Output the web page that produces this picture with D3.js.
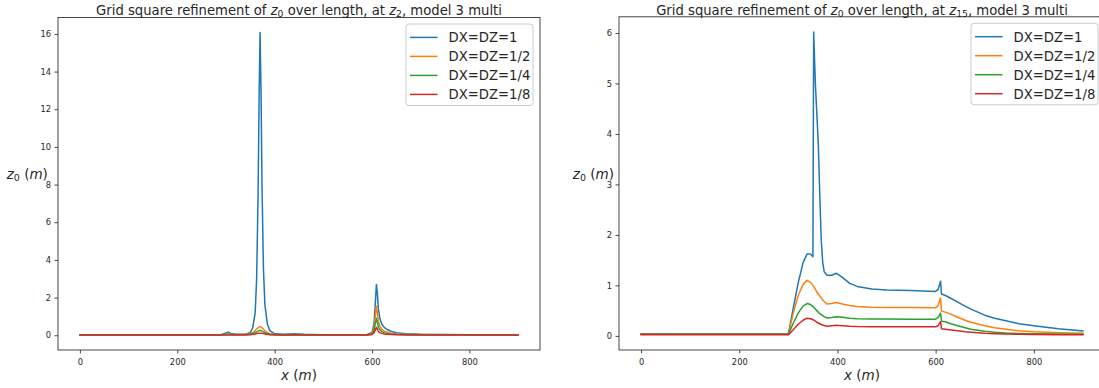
<!DOCTYPE html>
<html>
<head>
<meta charset="utf-8">
<script src="https://cdn.jsdelivr.net/npm/d3@7"></script>
<style>
  html, body { margin: 0; padding: 0; background: #fff; }
  svg { display: block; font-family: "DejaVu Sans", sans-serif; }
</style>
</head>
<body>
<svg id="fig" width="1099" height="388"></svg>
<script>
// ---- data -------------------------------------------------------------
const seriesLabels = ["DX=DZ=1", "DX=DZ=1/2", "DX=DZ=1/4", "DX=DZ=1/8"];
const seriesColors = ["#1f77b4", "#ff7f0e", "#2ca02c", "#d62728"];
const xTicks = [0, 200, 400, 600, 800];
const yTicksLeft = [0, 2, 4, 6, 8, 10, 12, 14, 16];
const yTicksRight = [0, 1, 2, 3, 4, 5, 6];

// z0 along the domain at level z2
const xLeft = [0, 100, 200, 290, 300, 305, 310, 320, 340, 350, 355, 360, 363, 366, 368, 370,
  372, 374, 377, 380, 385, 390, 400, 420, 440, 460, 500, 550, 590, 600, 604, 607,
  609, 611, 613, 616, 620, 625, 630, 640, 650, 670, 700, 750, 800, 900];
const left1 = [0.03, 0.03, 0.03, 0.03, 0.12, 0.16, 0.10, 0.05, 0.05, 0.15, 0.40, 1.2, 3.0, 7.5, 12.5, 16.07,
  13.0, 8.0, 3.5, 1.6, 0.6, 0.25, 0.08, 0.05, 0.08, 0.05, 0.03, 0.03, 0.04, 0.15, 0.6, 1.8,
  2.7, 2.2, 1.4, 0.9, 0.6, 0.42, 0.32, 0.2, 0.14, 0.08, 0.05, 0.04, 0.03, 0.03];
const left2 = [0.03, 0.03, 0.03, 0.03, 0.05, 0.06, 0.05, 0.04, 0.05, 0.08, 0.14, 0.25, 0.33, 0.40, 0.44, 0.46,
  0.44, 0.40, 0.32, 0.24, 0.13, 0.08, 0.04, 0.03, 0.04, 0.03, 0.03, 0.03, 0.03, 0.08, 0.4, 1.1,
  1.55, 1.2, 0.75, 0.5, 0.33, 0.23, 0.17, 0.1, 0.07, 0.05, 0.04, 0.03, 0.03, 0.03];
const left4 = [0.03, 0.03, 0.03, 0.03, 0.04, 0.04, 0.04, 0.03, 0.04, 0.06, 0.09, 0.14, 0.18, 0.22, 0.25, 0.26,
  0.25, 0.22, 0.18, 0.14, 0.09, 0.06, 0.04, 0.03, 0.03, 0.03, 0.03, 0.03, 0.03, 0.06, 0.25, 0.65,
  0.9, 0.7, 0.45, 0.3, 0.2, 0.14, 0.1, 0.07, 0.05, 0.04, 0.03, 0.03, 0.03, 0.03];
const left8 = [0.02, 0.02, 0.02, 0.02, 0.02, 0.02, 0.02, 0.02, 0.02, 0.03, 0.05, 0.07, 0.09, 0.10, 0.11, 0.11,
  0.11, 0.10, 0.09, 0.07, 0.05, 0.03, 0.02, 0.02, 0.02, 0.02, 0.02, 0.02, 0.02, 0.04, 0.12, 0.3,
  0.43, 0.32, 0.2, 0.14, 0.1, 0.07, 0.05, 0.04, 0.03, 0.02, 0.02, 0.02, 0.02, 0.02];

// z0 along the domain at level z15
const xRight = [0, 100, 200, 300, 310, 320, 330, 338, 345, 350, 351.5, 355, 358, 361, 364, 367,
  370, 373, 379, 388, 398, 410, 425, 440, 470, 500, 550, 600, 605, 610, 612, 620,
  628, 645, 660, 672, 700, 720, 743, 770, 800, 850, 900];
const right1 = [0.04, 0.04, 0.04, 0.04, 0.55, 1.05, 1.45, 1.62, 1.62, 1.57, 6.02, 5.0, 4.4, 3.8, 2.8, 1.9,
  1.45, 1.27, 1.2, 1.2, 1.24, 1.16, 1.04, 0.98, 0.93, 0.91, 0.9, 0.88, 0.92, 1.08, 0.83, 0.8,
  0.76, 0.67, 0.59, 0.53, 0.41, 0.35, 0.3, 0.24, 0.2, 0.14, 0.1];
const right2 = [0.03, 0.03, 0.03, 0.03, 0.45, 0.8, 1.02, 1.1, 1.06, 1.0, 0.98, 0.92, 0.87, 0.83, 0.79, 0.75,
  0.71, 0.68, 0.63, 0.64, 0.66, 0.63, 0.6, 0.58, 0.565, 0.56, 0.56, 0.555, 0.6, 0.75, 0.49, 0.47,
  0.44, 0.37, 0.31, 0.27, 0.2, 0.16, 0.13, 0.1, 0.08, 0.06, 0.05];
const right4 = [0.03, 0.03, 0.03, 0.03, 0.25, 0.45, 0.59, 0.64, 0.62, 0.58, 0.57, 0.53, 0.5, 0.47, 0.44, 0.42,
  0.4, 0.38, 0.355, 0.365, 0.38, 0.37, 0.35, 0.34, 0.335, 0.333, 0.33, 0.33, 0.36, 0.45, 0.29, 0.28,
  0.25, 0.2, 0.16, 0.13, 0.09, 0.07, 0.055, 0.045, 0.04, 0.035, 0.033];
const right8 = [0.02, 0.02, 0.02, 0.02, 0.12, 0.23, 0.31, 0.35, 0.34, 0.32, 0.315, 0.29, 0.27, 0.255, 0.24, 0.225,
  0.215, 0.205, 0.19, 0.2, 0.21, 0.2, 0.19, 0.185, 0.183, 0.182, 0.18, 0.18, 0.2, 0.28, 0.14, 0.13,
  0.12, 0.1, 0.08, 0.07, 0.05, 0.042, 0.035, 0.03, 0.025, 0.022, 0.02];

// ---- drawing ----------------------------------------------------------
const svg = d3.select("#fig");
const FONT = "DejaVu Sans";
const INK = "#262626";

// writes a mathtext-like label: parts are [text, style] with style in
// {"", "i" (italic), "sub" (upright subscript)}
function richText(sel, parts, size) {
  let shifted = false;
  parts.forEach(([txt, style]) => {
    const t = sel.append("tspan").text(txt);
    if (style === "i") t.attr("font-style", "italic");
    if (style === "sub") {
      t.attr("font-size", size * 0.7).attr("dy", size * 0.22);
      shifted = true;
    } else if (shifted) {
      t.attr("dy", -size * 0.22);
      shifted = false;
    }
  });
}

function drawPanel(cfg) {
  const g = svg.append("g");
  const xExt = d3.extent(cfg.x);
  const xPad = (xExt[1] - xExt[0]) * 0.05;
  const x = d3.scaleLinear().domain([xExt[0] - xPad, xExt[1] + xPad]).range([cfg.l, cfg.r]);
  const yExt = d3.extent(cfg.series.flat());
  const yPad = (yExt[1] - yExt[0]) * 0.05;
  const y = d3.scaleLinear().domain([yExt[0] - yPad, yExt[1] + yPad]).range([cfg.b, cfg.t]);

  const clipId = "clip" + cfg.id;
  svg.append("clipPath").attr("id", clipId)
    .append("rect").attr("x", cfg.l).attr("y", cfg.t)
    .attr("width", cfg.r - cfg.l).attr("height", cfg.b - cfg.t);

  // series lines
  const line = d3.line().x(d => x(d[0])).y(d => y(d[1]));
  const lg = g.append("g").attr("clip-path", `url(#${clipId})`);
  cfg.series.forEach((vals, i) => {
    lg.append("path")
      .datum(cfg.x.map((xv, k) => [xv, vals[k]]))
      .attr("d", line)
      .attr("fill", "none")
      .attr("stroke", seriesColors[i])
      .attr("stroke-width", 1.5)
      .attr("stroke-linejoin", "round")
      .attr("stroke-linecap", "square");
  });

  // axes
  const fmt = d3.format("d");
  const xAxis = g.append("g").attr("transform", `translate(0,${cfg.b})`)
    .call(d3.axisBottom(x).tickValues(xTicks).tickFormat(fmt).tickSize(3.5).tickPadding(5.3));
  const yAxis = g.append("g").attr("transform", `translate(${cfg.l},0)`)
    .call(d3.axisLeft(y).tickValues(cfg.yTicks).tickFormat(fmt).tickSize(3.5).tickPadding(3.5));
  [xAxis, yAxis].forEach(a => {
    a.select(".domain").remove();
    a.selectAll(".tick line").attr("stroke", "#333").attr("stroke-width", 0.9);
    a.selectAll(".tick text").attr("fill", INK).attr("font-size", 8.3).attr("font-family", FONT);
  });

  // spines
  g.append("rect")
    .attr("x", cfg.l).attr("y", cfg.t)
    .attr("width", cfg.r - cfg.l).attr("height", cfg.b - cfg.t)
    .attr("fill", "none").attr("stroke", "#333").attr("stroke-width", 0.9);

  // title
  const title = g.append("text")
    .attr("x", (cfg.l + cfg.r) / 2).attr("y", 14.5)
    .attr("text-anchor", "middle").attr("font-size", 13.2).attr("fill", INK);
  richText(title, cfg.title, 13.2);

  // axis labels
  const xl = g.append("text")
    .attr("x", (cfg.l + cfg.r) / 2).attr("y", 380)
    .attr("text-anchor", "middle").attr("font-size", 13.5).attr("fill", INK);
  richText(xl, [["x", "i"], [" (", ""], ["m", "i"], [")", ""]], 13.5);

  const yl = g.append("text")
    .attr("x", cfg.ylabelX).attr("y", 178.5)
    .attr("text-anchor", "middle").attr("font-size", 13.5).attr("fill", INK);
  richText(yl, [["z", "i"], ["0", "sub"], [" (", ""], ["m", "i"], [")", ""]], 13.5);

  // legend
  const lw = 127, lh = 81.5;
  const lx = cfg.r - 7 - lw, ly = cfg.t + 6.5;
  const leg = g.append("g");
  leg.append("rect")
    .attr("x", lx).attr("y", ly).attr("width", lw).attr("height", lh)
    .attr("rx", 3).attr("fill", "#fff").attr("fill-opacity", 0.8)
    .attr("stroke", "#cccccc").attr("stroke-width", 1);
  seriesLabels.forEach((lab, i) => {
    const ry = ly + 13.4 + i * 19;
    leg.append("line")
      .attr("x1", lx + 4).attr("x2", lx + 31.5).attr("y1", ry).attr("y2", ry)
      .attr("stroke", seriesColors[i]).attr("stroke-width", 1.5);
    leg.append("text")
      .attr("x", lx + 42.6).attr("y", ry + 4.8)
      .attr("font-size", 13.2).attr("fill", INK).text(lab);
  });
}

drawPanel({
  id: "L", l: 58, r: 540, t: 17.5, b: 350,
  x: xLeft, series: [left1, left2, left4, left8], yTicks: yTicksLeft,
  ylabelX: 27.3,
  title: [["Grid square refinement of ", ""], ["z", "i"], ["0", "sub"], [" over length, at ", ""],
          ["z", "i"], ["2", "sub"], [", model 3 multi", ""]]
});

drawPanel({
  id: "R", l: 619, r: 1105, t: 16.8, b: 350,
  x: xRight, series: [right1, right2, right4, right8], yTicks: yTicksRight,
  ylabelX: 593.4,
  title: [["Grid square refinement of ", ""], ["z", "i"], ["0", "sub"], [" over length, at ", ""],
          ["z", "i"], ["15", "sub"], [", model 3 multi", ""]]
});
</script>
</body>
</html>
